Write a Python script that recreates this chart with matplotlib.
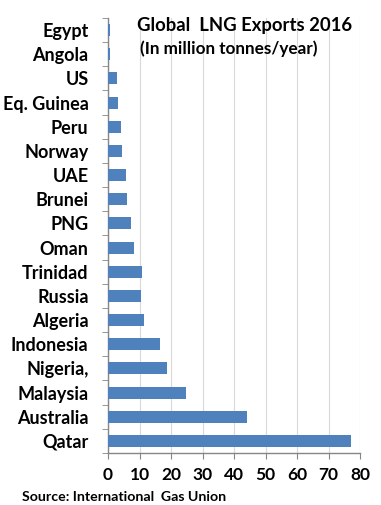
import numpy as np
import matplotlib
matplotlib.use("Agg")
import matplotlib.pyplot as plt

# Data (top to bottom as in the chart)
countries = ["Egypt", "Angola", "US", "Eq. Guinea", "Peru", "Norway", "UAE",
             "Brunei", "PNG", "Oman", "Trinidad", "Russia", "Algeria",
             "Indonesia", "Nigeria,", "Malaysia", "Australia", "Qatar"]
exports = [0.5, 0.6, 2.7, 3.2, 4.1, 4.3, 5.7, 6.1, 7.2, 8.1, 10.7, 10.6,
           11.5, 16.5, 18.6, 24.9, 44.2, 77.3]
xticks = [0, 10, 20, 30, 40, 50, 60, 70, 80]

plt.rcParams['font.family'] = ['Lato', 'DejaVu Sans']
plt.rcParams['font.weight'] = 'bold'

fig = plt.figure(figsize=(3.81, 5.05), dpi=100)
ax = fig.add_axes([108 / 381, 1 - 453 / 505, 252 / 381, 435 / 505])

y = np.arange(len(countries))
ax.barh(y, exports, height=0.5, color="#4F81BD", zorder=3)

ax.set_ylim(len(countries) - 0.5, -0.5)
ax.set_xlim(0, 80)
ax.set_xticks(xticks)
ax.set_xticklabels([str(t) for t in xticks], fontsize=12.5, fontweight='bold')
ax.set_yticks(y)
ax.set_yticklabels(countries, fontsize=13, fontweight='bold')
ax.set_yticks(np.arange(-0.5, len(countries), 1), minor=True)

ax.tick_params(axis='y', which='major', length=0, pad=14)
ax.tick_params(axis='y', which='minor', length=4, color='#868686', direction='out')
ax.tick_params(axis='x', length=4, color='#868686', direction='out', pad=6)

ax.grid(axis='x', color='#D9D9D9', linewidth=0.8, zorder=0)
for s in ['top', 'right']:
    ax.spines[s].set_visible(False)
for s in ['left', 'bottom']:
    ax.spines[s].set_color('#868686')
    ax.spines[s].set_linewidth(1.0)

fig.text(137 / 381, 1 - 26 / 505, "Global  LNG Exports 2016", fontsize=13.3,
         fontweight='bold', va='center', ha='left')
fig.text(140 / 381, 1 - 49 / 505, "(In million tonnes/year)", fontsize=12.3,
         fontweight='bold', va='center', ha='left')
fig.text(22 / 381, 1 - 497 / 505, "Source: International  Gas Union", fontsize=10.2,
         fontweight='bold', va='center', ha='left')

fig.savefig("out.png", dpi=100)
